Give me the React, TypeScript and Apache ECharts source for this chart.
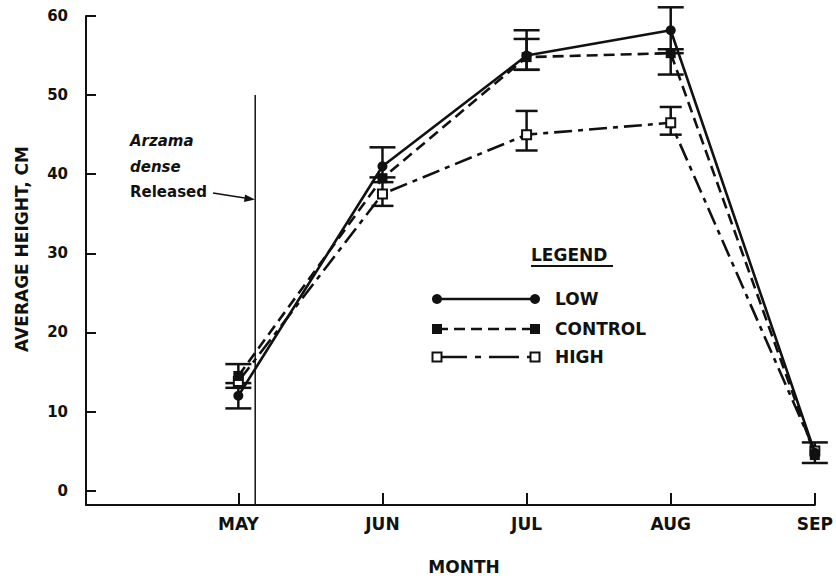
import React, { useEffect, useRef } from "react";
import * as echarts from "echarts";

const months = ["MAY", "JUN", "JUL", "AUG", "SEP"];
const monthIdx = [0, 1, 2, 3, 4];
const yTicks = [0, 10, 20, 30, 40, 50, 60];

const lowValues = [12.0, 41.0, 55.0, 58.2, 4.8];
const controlValues = [14.5, 39.5, 54.8, 55.3, 4.5];
const highValues = [13.8, 37.5, 45.0, 46.5, 5.0];

// error bars: [lower, upper] or null
const lowErr: ([number, number] | null)[] = [[10.4, 13.6], [39.6, 43.4], [53.2, 58.2], [55.3, 61.1], [3.5, 6.1]];
const controlErr: ([number, number] | null)[] = [[13.0, 16.0], null, [53.2, 57.1], [52.6, 55.8], null];
const highErr: ([number, number] | null)[] = [null, [36.0, 39.0], [43.0, 48.0], [45.0, 48.5], null];

const releaseMonth = 0.117;
const releaseTop = 50;

const INK = "#111";
const FONT = "DejaVu Sans";

function errRows(err: ([number, number] | null)[]) {
  const rows: number[][] = [];
  err.forEach((e, i) => {
    if (e) rows.push([monthIdx[i], e[0], e[1]]);
  });
  return rows;
}

function errSeries(err: ([number, number] | null)[], capW: number) {
  return {
    type: "custom",
    z: 3,
    silent: true,
    data: errRows(err),
    encode: { x: 0, y: [1, 2] },
    renderItem: (params: any, api: any) => {
      const x = api.value(0);
      const lo = api.coord([x, api.value(1)]);
      const hi = api.coord([x, api.value(2)]);
      const st = { stroke: INK, lineWidth: 2.5 };
      return {
        type: "group",
        children: [
          { type: "line", shape: { x1: lo[0], y1: lo[1], x2: hi[0], y2: hi[1] }, style: st },
          { type: "line", shape: { x1: lo[0] - capW / 2, y1: lo[1], x2: lo[0] + capW / 2, y2: lo[1] }, style: st },
          { type: "line", shape: { x1: hi[0] - capW / 2, y1: hi[1], x2: hi[0] + capW / 2, y2: hi[1] }, style: st },
        ],
      };
    },
  };
}

export default function App() {
  const ref = useRef<HTMLDivElement>(null);
  useEffect(() => {
    document.body.style.margin = "0";
    const chart = echarts.init(ref.current!, null, { renderer: "svg" });
    const legendX1 = 437;
    const legendX2 = 535;
    const rowY = [299, 329, 357];
    const option: any = {
      animation: false,
      backgroundColor: "#fff",
      grid: { left: 86, right: 18, top: 16, bottom: 77 },
      xAxis: {
        type: "value",
        min: -1.057,
        max: 4,
        axisLine: { show: true, onZero: false, lineStyle: { color: INK, width: 2 } },
        axisTick: { show: true, inside: true, length: 12, customValues: monthIdx, lineStyle: { color: INK, width: 2 } },
        axisLabel: {
          customValues: monthIdx,
          formatter: (v: number) => months[Math.round(v)],
          color: INK,
          fontFamily: FONT,
          fontWeight: "bold",
          fontSize: 17,
          margin: 10,
        },
        splitLine: { show: false },
      },
      yAxis: {
        type: "value",
        min: -1.81,
        max: 60,
        axisLine: { show: true, onZero: false, lineStyle: { color: INK, width: 2 } },
        axisTick: { show: true, inside: true, length: 10, customValues: yTicks, lineStyle: { color: INK, width: 2 } },
        axisLabel: {
          customValues: yTicks,
          color: INK,
          fontFamily: FONT,
          fontWeight: "bold",
          fontSize: 15,
          margin: 18,
        },
        splitLine: { show: false },
      },
      series: [
        {
          type: "line",
          silent: true,
          z: 1,
          symbol: "none",
          data: [[releaseMonth, -1.81], [releaseMonth, releaseTop]],
          lineStyle: { color: INK, width: 1.5 },
        },
        errSeries(lowErr, 26),
        errSeries(controlErr, 26),
        errSeries(highErr, 22),
        {
          name: "HIGH",
          type: "line",
          z: 4,
          data: monthIdx.map((m, i) => [m, highValues[i]]),
          symbol: "rect",
          symbolSize: 9,
          itemStyle: { color: "#fff", borderColor: INK, borderWidth: 2 },
          lineStyle: { color: INK, width: 2.6, type: [18, 6, 5, 6] },
        },
        {
          name: "LOW",
          type: "line",
          z: 5,
          data: monthIdx.map((m, i) => [m, lowValues[i]]),
          symbol: "circle",
          symbolSize: 10,
          itemStyle: { color: INK },
          lineStyle: { color: INK, width: 2.6, type: "solid" },
        },
        {
          name: "CONTROL",
          type: "line",
          z: 5,
          data: monthIdx.map((m, i) => [m, controlValues[i]]),
          symbol: "rect",
          symbolSize: 10,
          itemStyle: { color: INK },
          lineStyle: { color: INK, width: 2.6, type: [11, 6] },
        },
      ],
      graphic: [
        {
          type: "text",
          x: 22,
          y: 249,
          rotation: Math.PI / 2,
          style: { text: "AVERAGE HEIGHT, CM", font: `bold 17px "${FONT}"`, fill: INK, align: "center", verticalAlign: "middle" },
        },
        {
          type: "text",
          x: 464,
          y: 567,
          style: { text: "MONTH", font: `bold 17px "${FONT}"`, fill: INK, align: "center", verticalAlign: "middle" },
        },
        { type: "text", x: 130, y: 141, style: { text: "Arzama", font: `italic bold 15px "${FONT}"`, fill: INK, verticalAlign: "middle" } },
        { type: "text", x: 130, y: 167, style: { text: "dense", font: `italic bold 15px "${FONT}"`, fill: INK, verticalAlign: "middle" } },
        { type: "text", x: 130, y: 192, style: { text: "Released", font: `bold 15px "${FONT}"`, fill: INK, verticalAlign: "middle" } },
        { type: "line", shape: { x1: 213, y1: 193, x2: 248, y2: 198.5 }, style: { stroke: INK, lineWidth: 1.5 } },
        { type: "polygon", shape: { points: [[255, 199.5], [245, 194.5], [244, 202]] }, style: { fill: INK } },
        // legend
        { type: "text", x: 531, y: 255, style: { text: "LEGEND", font: `bold 17px "${FONT}"`, fill: INK, verticalAlign: "middle" } },
        { type: "line", shape: { x1: 531, y1: 266, x2: 613, y2: 266 }, style: { stroke: INK, lineWidth: 2 } },
        { type: "line", shape: { x1: legendX1, y1: rowY[0], x2: legendX2, y2: rowY[0] }, style: { stroke: INK, lineWidth: 2.6 } },
        { type: "circle", shape: { cx: legendX1, cy: rowY[0], r: 5 }, style: { fill: INK } },
        { type: "circle", shape: { cx: legendX2, cy: rowY[0], r: 5 }, style: { fill: INK } },
        { type: "text", x: 555, y: rowY[0], style: { text: "LOW", font: `bold 17px "${FONT}"`, fill: INK, verticalAlign: "middle" } },
        { type: "line", shape: { x1: legendX1, y1: rowY[1], x2: legendX2, y2: rowY[1] }, style: { stroke: INK, lineWidth: 2.6, lineDash: [11, 6] } },
        { type: "rect", shape: { x: legendX1 - 5, y: rowY[1] - 5, width: 10, height: 10 }, style: { fill: INK } },
        { type: "rect", shape: { x: legendX2 - 5, y: rowY[1] - 5, width: 10, height: 10 }, style: { fill: INK } },
        { type: "text", x: 555, y: rowY[1], style: { text: "CONTROL", font: `bold 17px "${FONT}"`, fill: INK, verticalAlign: "middle" } },
        { type: "line", shape: { x1: legendX1, y1: rowY[2], x2: legendX2, y2: rowY[2] }, style: { stroke: INK, lineWidth: 2.6, lineDash: [30, 8, 6, 8] } },
        { type: "rect", shape: { x: legendX1 - 4.5, y: rowY[2] - 4.5, width: 9, height: 9 }, style: { fill: "#fff", stroke: INK, lineWidth: 2 } },
        { type: "rect", shape: { x: legendX2 - 4.5, y: rowY[2] - 4.5, width: 9, height: 9 }, style: { fill: "#fff", stroke: INK, lineWidth: 2 } },
        { type: "text", x: 555, y: rowY[2], style: { text: "HIGH", font: `bold 17px "${FONT}"`, fill: INK, verticalAlign: "middle" } },
      ],
    };
    chart.setOption(option);
    return () => chart.dispose();
  }, []);
  return <div ref={ref} style={{ width: 836, height: 582 }} />;
}
